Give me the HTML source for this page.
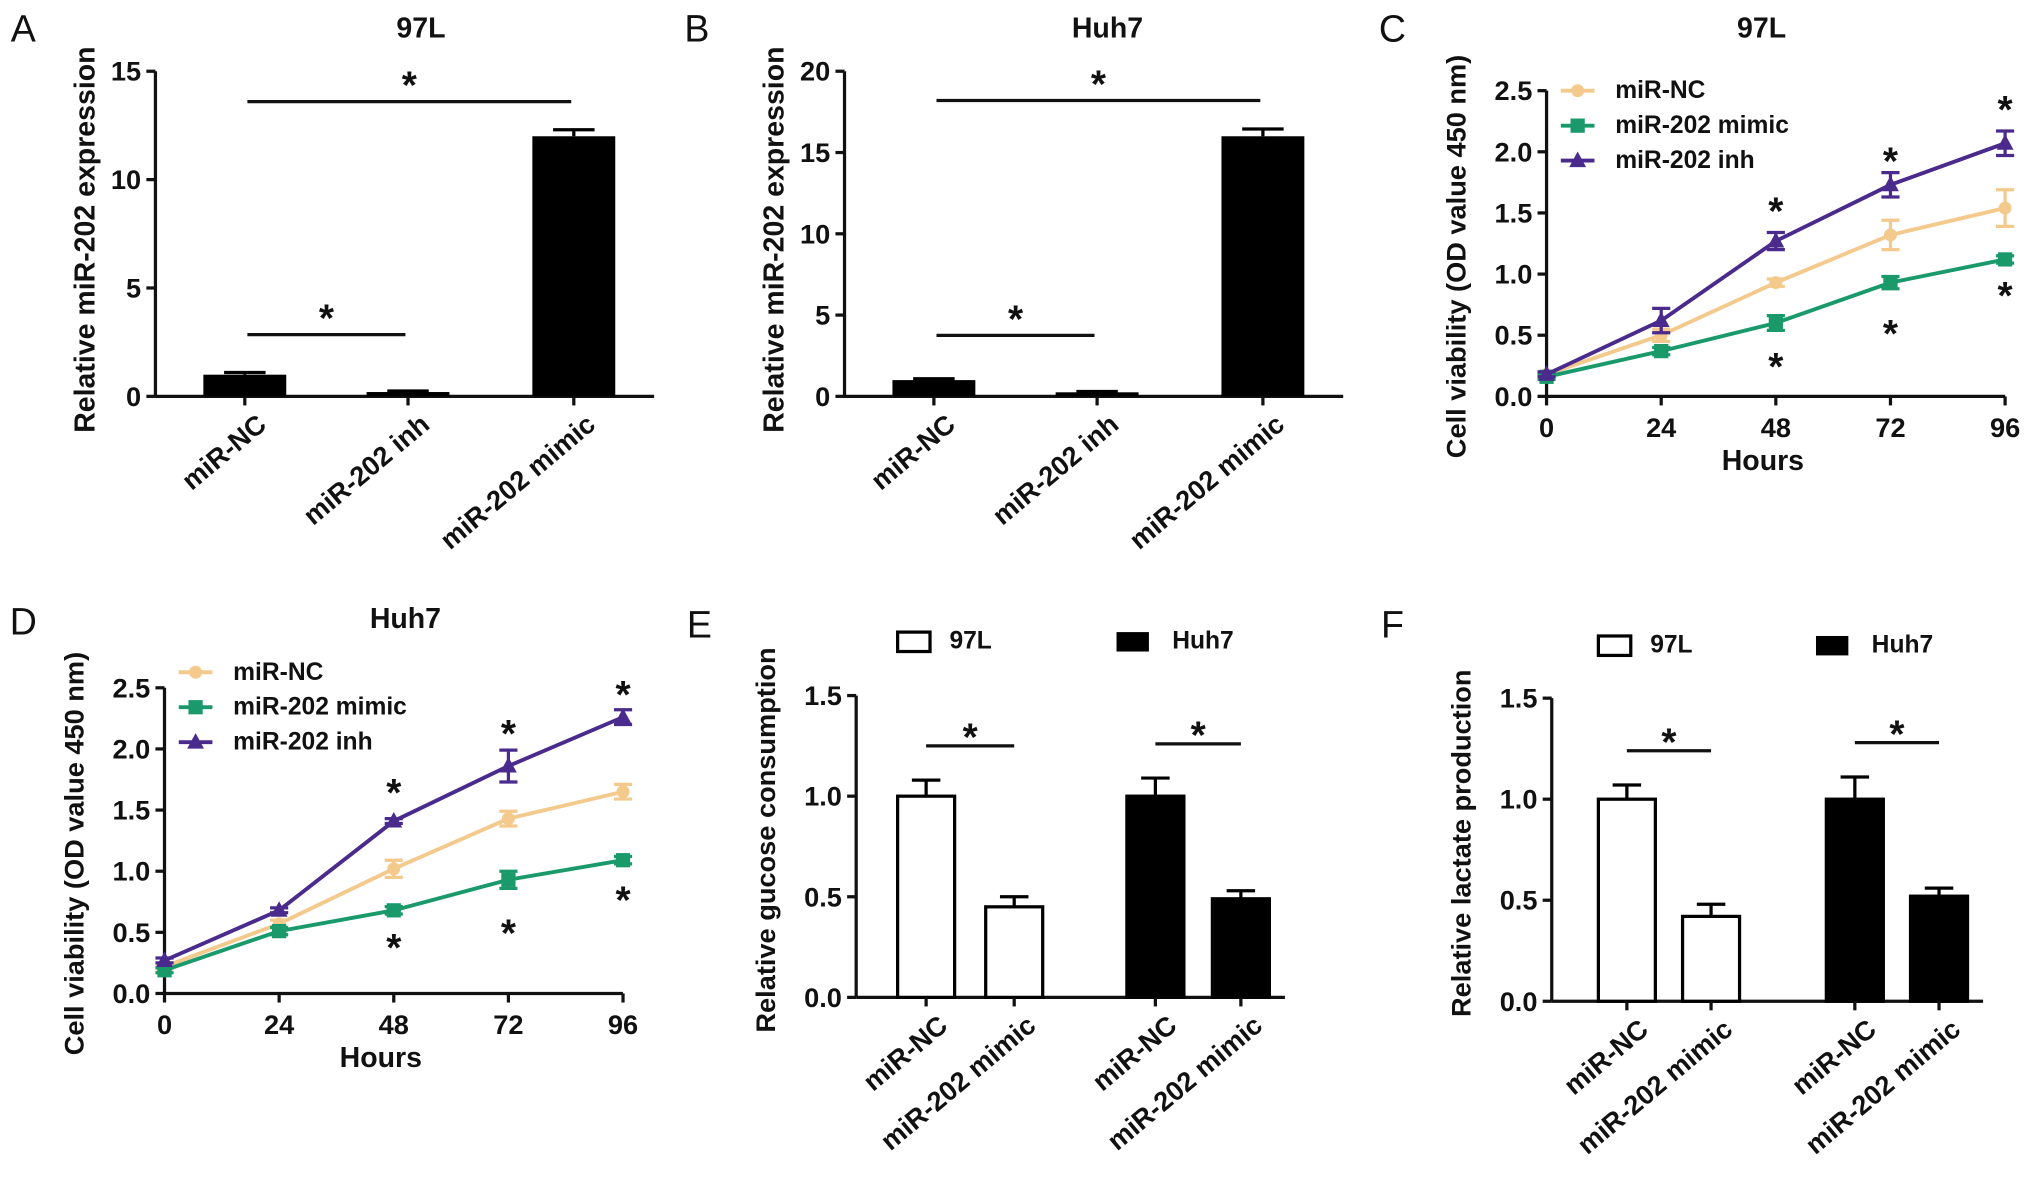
<!DOCTYPE html>
<html><head><meta charset="utf-8"><style>
html,body{margin:0;padding:0;background:#fff}
svg{display:block}
text{font-family:"Liberation Sans",Arial,sans-serif;font-weight:bold;fill:#111}
text.plain{font-weight:normal}
</style></head><body>
<svg id="fig" xmlns="http://www.w3.org/2000/svg" width="2031" height="1187" viewBox="0 0 1568 916.4"></svg>
<script>
// ---- Data ----
const barCatsABC = ["miR-NC","miR-202 inh","miR-202 mimic"];
const barA = [1.0,0.2,12.0];
const barAErr = [0.1,0.05,0.3];
const barB = [1.0,0.25,16.0];
const barBErr = [0.08,0.05,0.45];
const hours = [0,24,48,72,96];
const cNC = [0.18,0.5,0.93,1.32,1.54];
const cNCErr = [0.02,0.05,0.03,0.12,0.15];
const cMimic = [0.16,0.37,0.6,0.93,1.12];
const cMimicErr = [0.02,0.03,0.06,0.05,0.03];
const cInh = [0.18,0.62,1.27,1.73,2.07];
const cInhErr = [0.02,0.1,0.07,0.1,0.1];
const dNC = [0.22,0.57,1.02,1.43,1.65];
const dNCErr = [0.02,0.03,0.07,0.06,0.06];
const dMimic = [0.19,0.51,0.68,0.93,1.09];
const dMimicErr = [0.02,0.03,0.03,0.07,0.03];
const dInh = [0.27,0.68,1.41,1.86,2.26];
const dInhErr = [0.02,0.02,0.02,0.13,0.06];
const groupCats = ["miR-NC","miR-202 mimic","miR-NC","miR-202 mimic"];
const e97L = [1.0,0.45];
const e97LErr = [0.08,0.05];
const eHuh7 = [1.0,0.49];
const eHuh7Err = [0.09,0.04];
const f97L = [1.0,0.42];
const f97LErr = [0.07,0.06];
const fHuh7 = [1.0,0.52];
const fHuh7Err = [0.11,0.04];

const NS="http://www.w3.org/2000/svg";
const svg=document.getElementById('fig');
function el(tag,attrs,parent,txt){const e=document.createElementNS(NS,tag);for(const k in attrs)e.setAttribute(k,attrs[k]);if(txt!==undefined)e.textContent=txt;(parent||svg).appendChild(e);return e;}
function grp(name,parent){const g=el('g',{},parent);return g;}
function txt(name,x,y,s,size,parent,extra){const t=el('text',Object.assign({x:x,y:y,'font-size':size,'text-anchor':'middle','dominant-baseline':'central'},extra||{}),parent,s);return t;}
function line(x1,y1,x2,y2,parent,w,c){return el('line',{x1:x1,y1:y1,x2:x2,y2:y2,stroke:c||'#111','stroke-width':w||2.5},parent);}

function yAxis(g,x,y0,y1,max,step,dec,xEnd){
  const sy=v=>y0-(v/max)*(y0-y1);
  const ax=line(x,y0,x,y1,g);
  const xa=line(x,y0,xEnd,y0,g);
  for(let v=0;v<=max+1e-9;v+=step){line(x-7,sy(v),x,sy(v),g);txt('y-tick-label',x-11,sy(v),v.toFixed(dec),21,g,{'text-anchor':'end'});}
  return sy;
}
function errBar(g,x,y,yTop,w,c){line(x,y,x,yTop,g,2.5,c);line(x-w,yTop,x+w,yTop,g,2.5,c);}
function rotLabel(g,s,x,y){txt('x-tick-label',x,y,s,21,g,{'text-anchor':'end',transform:`rotate(-40 ${x} ${y})`,'dominant-baseline':'hanging'});}
function star(g,x,y){txt('significance-star',x,y+6,'*',30,g);}
function letterT(g,x,y,s){txt('panel-letter',x,y,s,29,g,{'class':'plain'});}

// ---- Panel A/B: bar charts ----
function panelBar(letter,lx,title,tx,axX,max,step,vals,errs,centers,ylab,sig){
  const g=grp('panel-'+letter);
  letterT(g,lx,22,letter);
  txt('chart-title',tx,22,title,22,g);
  const sy=yAxis(g,axX,306,55,max,step,0,axX+385);
  vals.forEach((v,i)=>{const b=el('rect',{x:centers[i]-32,y:sy(v),width:64,height:306-sy(v),fill:'#000'},g);
    errBar(g,centers[i],sy(v),sy(v+errs[i]),16,'#000');
    line(centers[i],306,centers[i],313,g);
    rotLabel(g,barCatsABC[i],centers[i]+8,318);});
  txt('y-axis-title',axX-54,185,ylab,22,g,{transform:`rotate(-90 ${axX-54} 185)`});
  sig.forEach(s=>{line(centers[s[0]]+2,sy(s[2]),centers[s[1]]-2,sy(s[2]),g,2.5);star(g,(centers[s[0]]+centers[s[1]])/2,sy(s[2])-18);});
}
panelBar('A',18,'97L',325,120,15,5,barA,barAErr,[189,315,443],'Relative miR-202 expression',[[0,2,13.6],[0,1,2.85]]);
panelBar('B',538,'Huh7',855,652,20,5,barB,barBErr,[721,847,975],'Relative miR-202 expression',[[0,2,18.2],[0,1,3.75]]);

// ---- Panel C/D: line charts ----
const colNC='#f3c98c',colMimic='#1a9a6a',colInh='#4a2a8c';
function marker(g,type,x,y,c){
  if(type==='c')el('circle',{cx:x,cy:y,r:5,fill:c},g);
  else if(type==='s')el('rect',{x:x-5.5,y:y-5.5,width:11,height:11,fill:c},g);
  else el('polygon',{points:`${x},${y-7} ${x+6.5},${y+5} ${x-6.5},${y+5}`,fill:c},g);
}
function panelLine(letter,lx,ly,title,tx,ty,axX,xEnd,y0,y1,series,starsUp,starsDown,legY){
  const g=grp('panel-'+letter);
  letterT(g,lx,ly,letter);
  txt('chart-title',tx,ty,title,22,g);
  const sy=yAxis(g,axX,y0,y1,2.5,0.5,1,xEnd);
  const sx=h=>axX+h/96*(xEnd-axX);
  hours.forEach(h=>{line(sx(h),y0,sx(h),y0+7,g);txt('x-tick-label',sx(h),y0+24,String(h),21,g);});
  txt('x-axis-title',(axX+xEnd)/2-10,y0+50,'Hours',22,g);
  const ym=(y0+y1)/2+10;
  txt('y-axis-title',axX-70,ym,'Cell viability (OD value 450 nm)',21,g,{transform:`rotate(-90 ${axX-70} ${ym})`});
  series.forEach((s,si)=>{
    const sg=grp('series-'+s.name.replace(/ /g,'-').toLowerCase(),g);
    el('polyline',{points:s.v.map((v,i)=>sx(hours[i])+','+sy(v)).join(' '),fill:'none',stroke:s.c,'stroke-width':3},sg);
    s.v.forEach((v,i)=>{errBar(sg,sx(hours[i]),sy(v-s.e[i]),sy(v+s.e[i]),7,s.c);line(sx(hours[i])-7,sy(v-s.e[i]),sx(hours[i])+7,sy(v-s.e[i]),sg,2.5,s.c);marker(sg,s.m,sx(hours[i]),sy(v),s.c);});
    const lg=grp('legend-entry',g);
    const ly2=legY+si*27;
    line(axX+11,ly2,axX+37,ly2,lg,3,s.c);marker(lg,s.m,axX+24,ly2,s.c);
    txt('legend-label',axX+53,ly2,s.name,19,lg,{'text-anchor':'start'});
  });
  starsUp.forEach((v,i)=>star(g,sx(hours[i+2]),sy(v)));
  starsDown.forEach((v,i)=>star(g,sx(hours[i+2]),sy(v)));
}
panelLine('C',1075,22,'97L',1360,22,1194,1548,306,70,
 [{name:'miR-NC',v:cNC,e:cNCErr,c:colNC,m:'c'},{name:'miR-202 mimic',v:cMimic,e:cMimicErr,c:colMimic,m:'s'},{name:'miR-202 inh',v:cInh,e:cInhErr,c:colInh,m:'t'}],
 [1.57,1.98,2.4],[0.3,0.57,0.88],70);
panelLine('D',18,480,'Huh7',313,478,127,481,767,531,
 [{name:'miR-NC',v:dNC,e:dNCErr,c:colNC,m:'c'},{name:'miR-202 mimic',v:dMimic,e:dMimicErr,c:colMimic,m:'s'},{name:'miR-202 inh',v:dInh,e:dInhErr,c:colInh,m:'t'}],
 [1.7,2.18,2.5],[0.43,0.55,0.82],519);

// ---- Panel E/F: grouped bars ----
function panelGroup(letter,lx,axX,y0,y1,v1,e1,v2,e2,centers,ylab,legY){
  const g=grp('panel-'+letter);
  letterT(g,lx,482,letter);
  const sy=yAxis(g,axX,y0,y1,1.5,0.5,1,centers[3]+34);
  const vals=v1.concat(v2),errs=e1.concat(e2);
  vals.forEach((v,i)=>{const open=i<2;
    errBar(g,centers[i],sy(v),sy(v+errs[i]),11,'#000');
    const b=el('rect',{x:centers[i]-22,y:sy(v),width:44,height:y0-sy(v),fill:open?'#fff':'#000',stroke:'#000','stroke-width':2.5},g);
    
    line(centers[i],y0,centers[i],y0+7,g);
    rotLabel(g,groupCats[i],centers[i]+8,y0+12);});
  [[0,1],[2,3]].forEach(p=>{const yy=sy(Math.max(vals[p[0]]+errs[p[0]],vals[p[1]]+errs[p[1]])+0.17);line(centers[p[0]],yy,centers[p[1]],yy,g,2.5);star(g,(centers[p[0]]+centers[p[1]])/2,yy-12);});
  const ym=(y0+y1)/2-5;
  txt('y-axis-title',axX-70,ym,ylab,21,g,{transform:`rotate(-90 ${axX-70} ${ym})`});
  const l1=grp('legend-entry',g);el('rect',{x:centers[0]-22,y:legY-7,width:25,height:15,fill:'#fff',stroke:'#000','stroke-width':2.5},l1);txt('legend-label',centers[0]+18,legY,'97L',19,l1,{'text-anchor':'start'});
  const l2=grp('legend-entry',g);el('rect',{x:centers[2]-30,y:legY-7,width:25,height:15,fill:'#000'},l2);txt('legend-label',centers[2]+13,legY,'Huh7',19,l2,{'text-anchor':'start'});
}
panelGroup('E',540,661,770,537,e97L,e97LErr,eHuh7,eHuh7Err,[715,783,892,958],'Relative gucose consumption',495);
panelGroup('F',1075,1198,773,539,f97L,f97LErr,fHuh7,fHuh7Err,[1256,1321,1432,1497],'Relative lactate production',498);
</script>
</body></html>
